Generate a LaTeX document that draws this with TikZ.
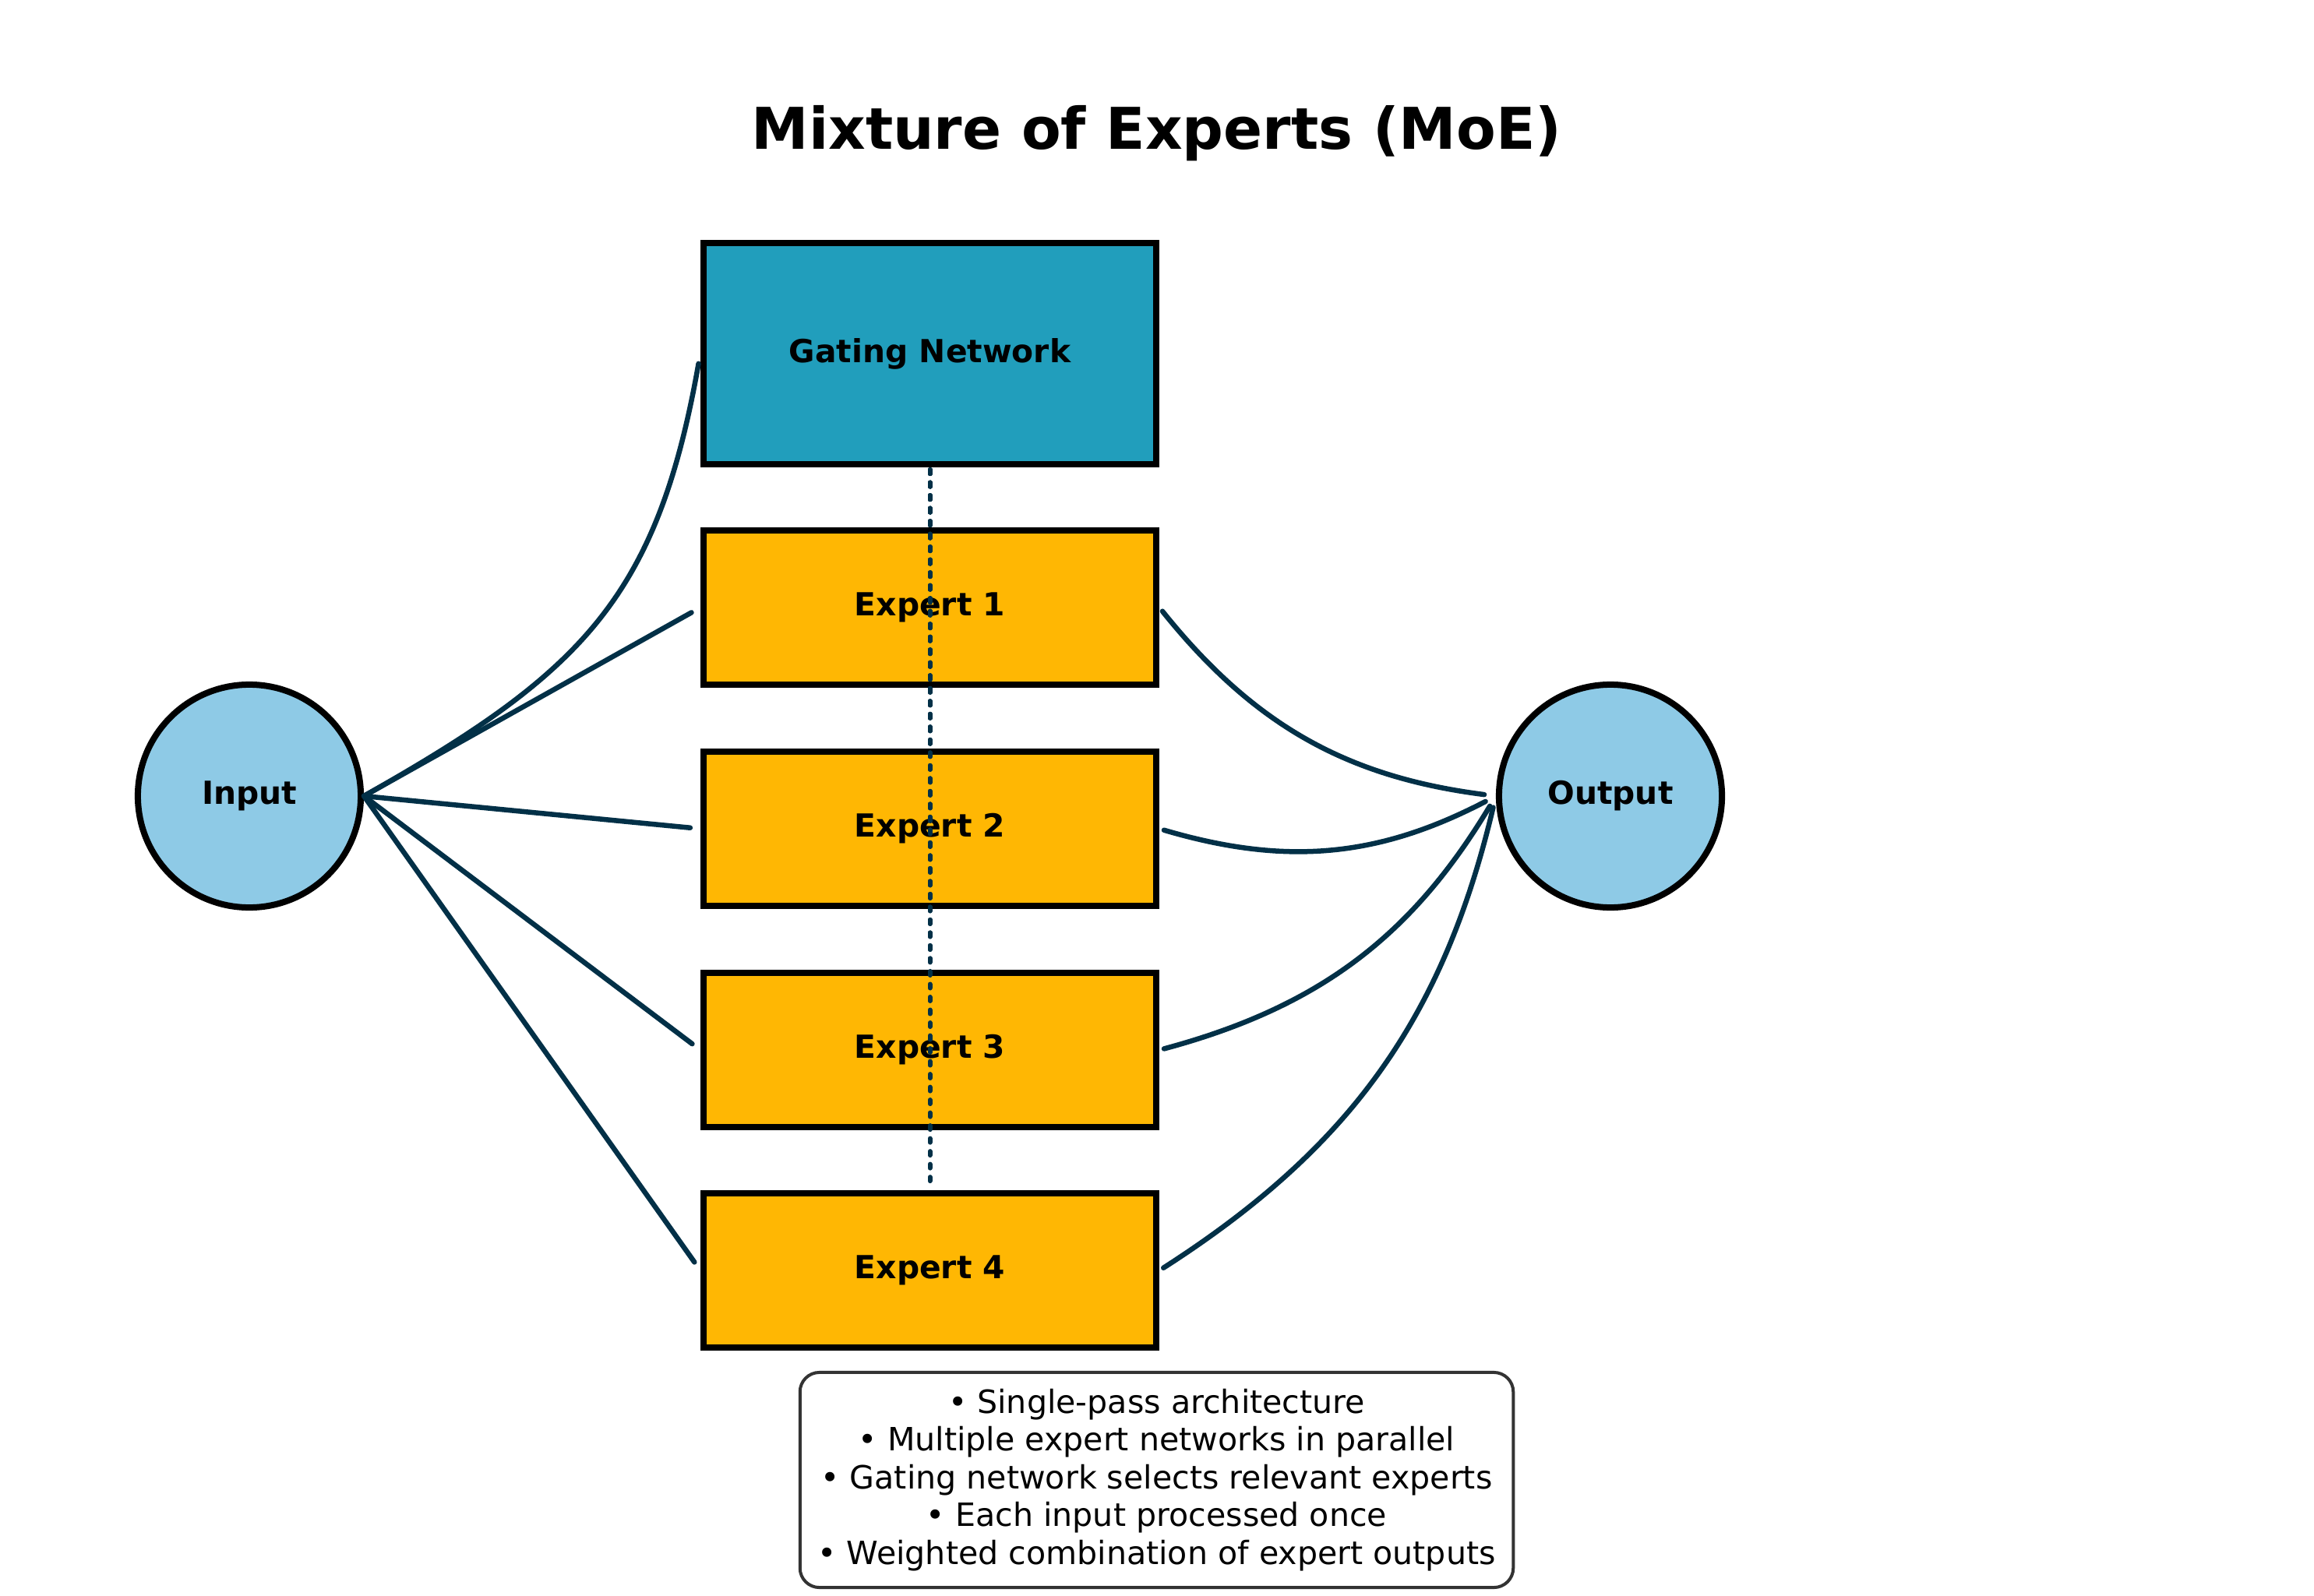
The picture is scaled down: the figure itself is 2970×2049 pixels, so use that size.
\documentclass[tikz,border=0pt]{standalone}
\usepackage{fontspec}
\setmainfont{DejaVu Sans}
\usetikzlibrary{calc}
\definecolor{gatec}{HTML}{219EBC}
\definecolor{expc}{HTML}{FFB703}
\definecolor{ioc}{HTML}{8ECAE6}
\definecolor{connc}{HTML}{023047}
\definecolor{notec}{HTML}{333333}
\begin{document}
\begin{tikzpicture}[x=0.01cm,y=-0.01cm,
  box/.style={draw=black, line width=0.08cm, minimum width=5.81cm, inner sep=0pt,
    font=\fontsize{11.6}{14}\selectfont\bfseries},
  gatebox/.style={box, fill=gatec, minimum height=2.84cm},
  expbox/.style={box, fill=expc, minimum height=1.97cm},
  iocirc/.style={circle, draw=black, line width=0.08cm, fill=ioc, minimum size=2.86cm,
    inner sep=0pt, font=\fontsize{11.6}{14}\selectfont\bfseries},
  conn/.style={draw=connc, line width=0.065cm, line cap=round},
  gateline/.style={draw=connc, line width=0.06cm, line cap=round,
    dash pattern=on 0.05cm off 0.115cm},
  notebox/.style={draw=notec, line width=0.04cm, rounded corners=0.25cm, fill=white,
    minimum width=9.15cm, minimum height=2.76cm, align=center, inner sep=0pt,
    font=\fontsize{11.7}{13.8}\selectfont}
]
\useasboundingbox (0,0) rectangle (2970,2049);
\fill[white] (0,0) rectangle (2970,2049);

\node[anchor=base, font=\fontsize{21}{25}\selectfont\bfseries] (title) at (1484.5,192) {Mixture of Experts (MoE)};

\node[gatebox] (gate) at (1193.5,454) {Gating Network};
\node[expbox] (e1) at (1193.5,780) {Expert 1};
\node[expbox] (e2) at (1193.5,1064) {Expert 2};
\node[expbox] (e3) at (1193.5,1348) {Expert 3};
\node[expbox] (e4) at (1193.5,1631) {Expert 4};

\node[iocirc] (inp) at (320,1022) {Input};
\node[iocirc] (out) at (2067,1022) {Output};

\draw[conn, shorten >=0.13cm] (inp.east) .. controls +(29.5:3.2cm) and +(-100:3.2cm) .. (gate.west);
\foreach \i in {1,2,3,4} {
  \draw[conn, shorten >=0.13cm] (inp.east) -- (e\i.west);
  \draw[conn, shorten <=0.06cm, shorten >=0.15cm] (e\i.east) to[bend right=22] (out.west);
  \draw[gateline, shorten <=0.03cm, shorten >=0.12cm] (gate.south) -- (e\i.north);
}

\node[notebox] (note) at (1484.5,1900) {• Single-pass architecture\\• Multiple expert networks in parallel\\• Gating network selects relevant experts\\• Each input processed once\\• Weighted combination of expert outputs};
\end{tikzpicture}
\end{document}
